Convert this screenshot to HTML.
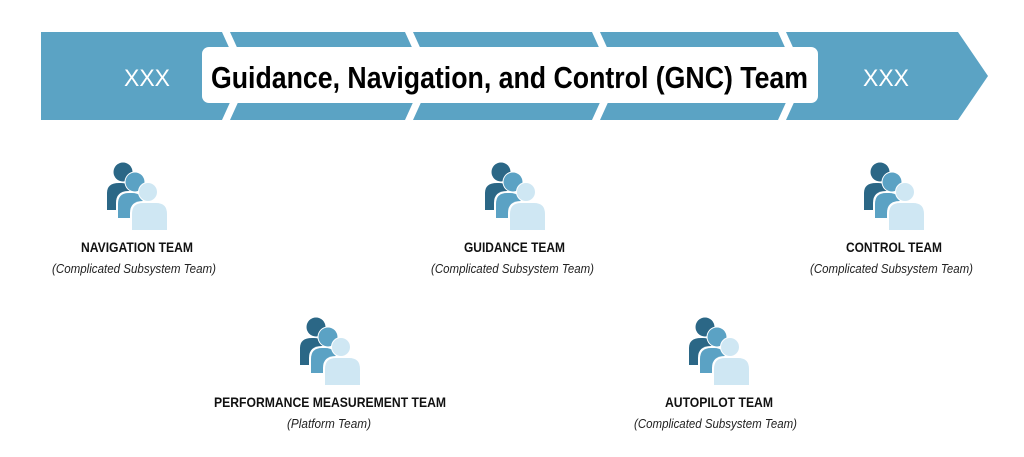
<!DOCTYPE html>
<html><head><style>html,body{margin:0;padding:0;background:#fff;}svg{display:block}</style></head>
<body>
<svg width="1024" height="457" viewBox="0 0 1024 457" xmlns="http://www.w3.org/2000/svg">
<defs>
<g id="ic">
  <path d="M0,47 V30 Q0,20 12,20 H14 Q24,20 24,30 V47 Z" fill="#2b6786"/>
  <circle cx="16" cy="9" r="9.5" fill="#2b6786"/>
  <circle cx="28" cy="19" r="10.5" fill="#fff"/>
  <path d="M9,57 V40 Q9,28 22,28 H25 Q38,28 38,40 V57 Z" fill="#fff"/>
  <path d="M11,55 V41 Q11,30 22,30 H25 Q36,30 36,41 V55 Z" fill="#5ba2c4"/>
  <circle cx="28" cy="19" r="9.5" fill="#5ba2c4"/>
  <circle cx="41" cy="29" r="10" fill="#fff"/>
  <path d="M23,69 V50 Q23,38 36,38 H49 Q62,38 62,50 V69 Z" fill="#fff"/>
  <path d="M25,67 V51 Q25,40 36,40 H49 Q60,40 60,51 V67 Z" fill="#cfe7f3"/>
  <circle cx="41" cy="29" r="9" fill="#cfe7f3"/>
</g>
</defs>
<g fill="#5ba3c4">
  <polygon points="41,32 222,32 242,76 222,120 41,120"/>
  <polygon points="230,32 405,32 425,76 405,120 230,120 250,76"/>
  <polygon points="413,32 592,32 612,76 592,120 413,120 433,76"/>
  <polygon points="600,32 778,32 798,76 778,120 600,120 620,76"/>
  <polygon points="786,32 958,32 988,76 958,120 786,120 806,76"/>
</g>
<rect x="202" y="47" width="616" height="56" rx="7" fill="#fff"/>
<text x="211" y="88" font-family="Liberation Sans, sans-serif" font-weight="bold" font-size="31" textLength="597" lengthAdjust="spacingAndGlyphs" fill="#000">Guidance, Navigation, and Control (GNC) Team</text>
<text x="124" y="86" font-family="Liberation Sans, sans-serif" font-size="24" textLength="46" lengthAdjust="spacingAndGlyphs" fill="#fff">XXX</text>
<text x="863" y="86" font-family="Liberation Sans, sans-serif" font-size="24" textLength="46" lengthAdjust="spacingAndGlyphs" fill="#fff">XXX</text>

<use href="#ic" x="107" y="163"/>
<use href="#ic" x="485" y="163"/>
<use href="#ic" x="864" y="163"/>
<use href="#ic" x="300" y="318"/>
<use href="#ic" x="689" y="318"/>

<g font-family="Liberation Sans, sans-serif" fill="#111">
<g font-weight="bold" font-size="14">
  <text x="81" y="252" textLength="112" lengthAdjust="spacingAndGlyphs">NAVIGATION TEAM</text>
  <text x="464" y="252" textLength="101" lengthAdjust="spacingAndGlyphs">GUIDANCE TEAM</text>
  <text x="846" y="252" textLength="96" lengthAdjust="spacingAndGlyphs">CONTROL TEAM</text>
  <text x="214" y="407" textLength="232" lengthAdjust="spacingAndGlyphs">PERFORMANCE MEASUREMENT TEAM</text>
  <text x="665" y="407" textLength="108" lengthAdjust="spacingAndGlyphs">AUTOPILOT TEAM</text>
</g>
<g font-style="italic" font-size="13" fill="#222">
  <text x="52" y="273" textLength="164" lengthAdjust="spacingAndGlyphs">(Complicated Subsystem Team)</text>
  <text x="431" y="273" textLength="163" lengthAdjust="spacingAndGlyphs">(Complicated Subsystem Team)</text>
  <text x="810" y="273" textLength="163" lengthAdjust="spacingAndGlyphs">(Complicated Subsystem Team)</text>
  <text x="287" y="428" textLength="84" lengthAdjust="spacingAndGlyphs">(Platform Team)</text>
  <text x="634" y="428" textLength="163" lengthAdjust="spacingAndGlyphs">(Complicated Subsystem Team)</text>
</g>
</g>
</svg>
</body></html>
